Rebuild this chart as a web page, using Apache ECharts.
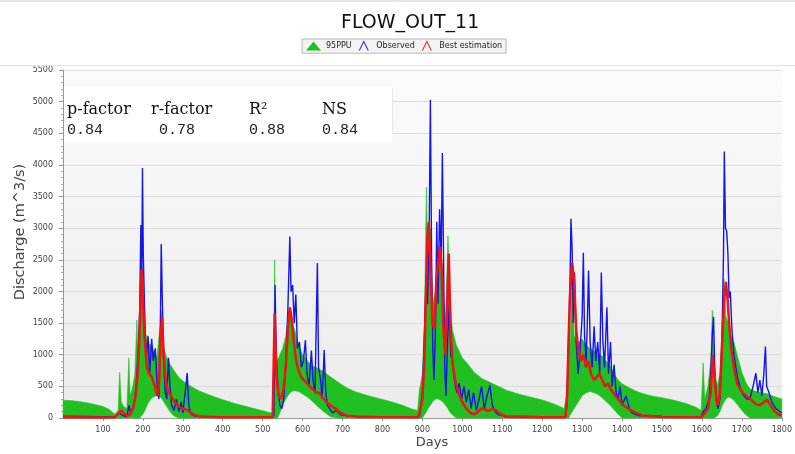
<!DOCTYPE html>
<html>
<head>
<meta charset="utf-8">
<script src="https://cdn.jsdelivr.net/npm/echarts@6/dist/echarts.min.js"></script>
<style>
html,body{margin:0;padding:0;background:#fff;}
#chart{width:795px;height:454px;}
</style>
</head>
<body>
<div id="chart"></div>
<script>
// ---- data ----
var xTickMin = 0, xTickMax = 1800, xTickStep = 100;
var yTickMin = 0, yTickMax = 5500, yTickStep = 500;

var statNames  = ["p-factor", "r-factor", "R\u00B2", "NS"];
var statValues = ["0.84", "0.78", "0.88", "0.84"];

// 95PPU band: [day, lower, upper]
var ppuBand = [
  [0,0,280],[20,0,275],[40,0,260],[60,0,240],[80,0,215],[100,0,180],[115,0,140],[130,0,60],
  [138,0,120],[142,0,720],[146,0,250],[152,0,180],[160,0,150],[165,0,950],[168,0,350],[175,0,500],
  [180,0,700],[185,0,1550],[188,0,900],[192,0,1100],[196,30,2400],[200,60,2300],[205,120,1400],
  [212,220,1200],[220,300,1150],[228,340,1050],[235,350,950],[242,340,1400],[248,300,1700],
  [253,250,1100],[260,180,950],[268,100,850],[278,30,750],[290,0,640],[305,0,560],[320,0,500],
  [340,0,430],[360,0,380],[380,0,330],[400,0,290],[430,0,230],[460,0,180],[490,0,130],[515,0,90],
  [527,0,70],[530,0,2500],[533,0,1200],[537,0,900],[543,80,1000],[550,200,1100],[558,300,1300],
  [566,380,1700],[572,420,1500],[580,430,1400],[590,420,1150],[600,380,1000],[612,330,900],
  [625,260,820],[640,170,780],[655,90,720],[670,20,650],[690,0,560],[710,0,480],[730,0,420],
  [760,0,360],[790,0,310],[820,0,260],[850,0,200],[875,0,140],[888,0,120],[892,0,420],[900,0,700],
  [905,50,1500],[910,100,3650],[914,150,2200],[920,200,3000],[926,260,1800],[933,300,2000],
  [940,300,2600],[946,280,2800],[952,250,2000],[958,200,1500],[964,150,2880],[968,100,2000],
  [975,50,1400],[985,0,1150],[1000,0,950],[1015,0,840],[1030,0,720],[1050,0,620],[1070,0,560],
  [1090,0,500],[1110,0,440],[1140,0,380],[1170,0,330],[1200,0,285],[1230,0,220],[1255,0,150],
  [1262,0,400],[1266,0,1600],[1270,50,1100],[1275,100,2400],[1280,150,1300],[1290,250,1200],
  [1300,350,1250],[1310,400,1150],[1320,420,1100],[1330,400,1050],[1340,370,1000],[1350,320,980],
  [1360,260,900],[1370,200,820],[1380,130,700],[1390,60,600],[1400,0,540],[1420,0,470],
  [1440,0,410],[1460,0,370],[1480,0,340],[1500,0,320],[1530,0,280],[1560,0,230],[1585,0,170],
  [1598,0,120],[1603,0,870],[1607,0,300],[1615,0,500],[1622,0,900],[1626,0,1700],[1630,0,800],
  [1638,30,500],[1645,100,700],[1650,180,1300],[1655,250,2200],[1660,300,1600],[1666,330,1500],
  [1672,320,1300],[1680,280,1200],[1690,200,950],[1700,120,720],[1710,50,560],[1720,0,460],
  [1735,0,420],[1750,0,400],[1765,0,380],[1780,0,340],[1800,0,300]
];

// Observed discharge: [day, value]
var observed = [
  [0,30],[50,25],[100,20],[130,15],[140,80],[145,60],[150,40],[160,20],[165,200],[170,60],[178,200],
  [183,500],[188,1000],[192,1700],[195,3050],[197,2000],[199,3950],[201,2600],[204,1800],[208,900],
  [213,1300],[217,700],[222,1250],[226,900],[231,1100],[236,500],[240,300],[243,1000],[246,2750],
  [249,1800],[252,900],[256,400],[260,300],[264,950],[268,500],[272,200],[278,120],[284,300],[290,100],
  [296,250],[300,80],[306,400],[311,710],[315,200],[320,60],[330,30],[360,20],[450,15],[520,10],
  [528,30],[531,2100],[534,1000],[538,500],[543,200],[548,150],[553,300],[558,900],[563,1700],
  [568,2870],[571,2000],[575,2100],[579,1500],[583,1950],[587,1100],[592,1200],[597,800],[602,900],
  [607,1230],[611,700],[616,500],[622,1065],[626,600],[631,400],[637,2450],[640,800],[645,600],
  [649,300],[654,1075],[658,400],[662,200],[668,150],[675,80],[685,120],[695,50],[720,30],[800,20],
  [880,15],[893,30],[900,400],[906,1500],[910,2300],[913,1800],[917,3000],[920,5030],[923,2500],
  [926,1100],[929,600],[933,1500],[936,3100],[939,1800],[943,3300],[947,2500],[950,4190],[953,2500],
  [956,800],[959,350],[963,1200],[967,1800],[971,1000],[975,900],[980,600],[986,400],[992,550],
  [998,300],[1004,500],[1010,250],[1016,450],[1022,150],[1028,400],[1035,120],[1042,300],[1048,500],
  [1055,150],[1062,350],[1069,520],[1075,200],[1082,100],[1090,50],[1110,30],[1200,20],[1258,20],
  [1262,200],[1266,1200],[1270,2300],[1272,3150],[1275,2650],[1278,1500],[1281,2300],[1285,1200],
  [1290,700],[1295,1100],[1300,1600],[1303,2610],[1306,1300],[1310,900],[1313,1500],[1316,2330],
  [1320,1200],[1325,800],[1330,1450],[1334,900],[1339,1200],[1344,700],[1348,2300],[1352,1200],
  [1356,800],[1362,1750],[1366,700],[1371,1200],[1375,500],[1380,840],[1385,400],[1390,300],
  [1395,500],[1400,200],[1410,350],[1418,150],[1425,80],[1440,40],[1500,25],[1598,20],[1603,100],
  [1610,150],[1618,300],[1622,700],[1626,1300],[1629,1600],[1632,800],[1636,300],[1640,150],
  [1645,300],[1650,1200],[1654,2600],[1656,4210],[1659,3000],[1662,2950],[1665,2600],[1668,1900],
  [1671,2000],[1675,1400],[1680,1000],[1685,800],[1690,600],[1695,500],[1700,400],[1705,350],
  [1712,300],[1720,300],[1728,500],[1735,710],[1740,400],[1745,600],[1750,350],[1755,700],
  [1759,1130],[1762,500],[1768,400],[1775,250],[1785,150],[1800,80]
];

// Best estimation: [day, value]
var bestEst = [
  [0,10],[100,8],[130,10],[138,60],[145,120],[152,80],[160,30],[168,60],[175,150],[182,350],[187,700],
  [191,1200],[194,1800],[197,2350],[200,1900],[204,1300],[210,800],[216,700],[222,650],[230,500],
  [236,350],[240,500],[244,1200],[248,1600],[252,1000],[257,600],[262,450],[270,350],[280,250],
  [290,180],[300,150],[312,120],[325,60],[340,25],[400,10],[525,10],[530,1650],[534,700],[540,350],
  [546,300],[552,450],[558,800],[563,1400],[568,1750],[573,1550],[578,1200],[584,900],[590,750],
  [596,650],[603,600],[610,550],[618,500],[626,450],[634,400],[642,400],[650,320],[660,250],[670,200],
  [682,150],[695,80],[710,40],[740,15],[890,10],[900,300],[905,900],[909,2000],[913,2900],[916,3100],
  [920,2400],[925,1500],[930,1400],[935,2200],[940,2500],[944,2700],[948,2400],[952,1500],[957,1000],
  [962,1800],[966,2600],[970,1500],[975,900],[982,600],[990,400],[1000,250],[1010,150],[1020,80],
  [1030,60],[1040,100],[1048,150],[1058,130],[1066,110],[1075,150],[1085,120],[1095,60],[1110,20],
  [1200,10],[1258,10],[1262,300],[1266,1200],[1270,2000],[1275,2450],[1280,2150],[1285,1400],
  [1290,1100],[1297,900],[1303,1000],[1310,800],[1316,900],[1322,700],[1330,600],[1337,650],
  [1343,700],[1350,600],[1357,500],[1365,550],[1372,450],[1380,380],[1390,300],[1400,220],[1410,170],
  [1420,130],[1435,80],[1450,40],[1500,15],[1598,10],[1605,60],[1615,150],[1622,400],[1627,1000],
  [1631,700],[1636,300],[1640,200],[1645,400],[1650,1100],[1655,1800],[1660,2150],[1664,1900],
  [1668,1500],[1673,1100],[1680,800],[1688,550],[1696,450],[1705,380],[1715,330],[1725,280],
  [1735,220],[1745,200],[1755,250],[1763,290],[1770,220],[1780,120],[1790,60],[1800,40]
];

var GREEN = '#21c021', BLUE = '#1515e6', RED = '#f01414';
var axisFont = 'DejaVu Sans';

var chart = echarts.init(document.getElementById('chart'), null, {renderer: 'canvas'});

var statGraphics = [];
var nameX = [67, 151, 249, 322];
var valueX = [67, 159, 249, 322];
statNames.forEach(function (n, i) {
  statGraphics.push({type: 'text', x: nameX[i], y: 102, z: 20,
    style: {text: n, font: '16px "DejaVu Serif"', fill: '#111', verticalAlign: 'top'}});
  statGraphics.push({type: 'text', x: valueX[i], y: 123, z: 20,
    style: {text: statValues[i], font: '15px "Liberation Mono"', fill: '#222', verticalAlign: 'top'}});
});

function plain(v) { return String(v); }

// band polygon: upper edge forward, lower edge backward, mapped by the axes
function renderBand(params, api) {
  if (params.dataIndex !== 0) return null;
  var pts = [];
  for (var i = 0; i < ppuBand.length; i++) pts.push(api.coord([ppuBand[i][0], ppuBand[i][2]]));
  for (var j = ppuBand.length - 1; j >= 0; j--) pts.push(api.coord([ppuBand[j][0], ppuBand[j][1]]));
  return {
    type: 'polygon',
    shape: {points: pts},
    style: {fill: GREEN, stroke: GREEN, lineWidth: 0.6}
  };
}

var option = {
  animation: false,
  backgroundColor: '#ffffff',
  title: {
    text: 'FLOW_OUT_11', left: 336, top: 9,
    textStyle: {fontFamily: axisFont, fontSize: 19, fontWeight: 'normal', color: '#111'}
  },
  legend: {
    left: 302, top: 39, padding: [2, 4, 2, 4],
    backgroundColor: '#f3f3f3', borderColor: '#b8b8b8', borderWidth: 1,
    itemWidth: 15, itemHeight: 9, itemGap: 7,
    textStyle: {fontFamily: axisFont, fontSize: 8, color: '#222'},
    data: [
      {name: '95PPU', icon: 'triangle', itemStyle: {color: GREEN}},
      {name: 'Observed', icon: 'path://M0,10L5,0L10,10', itemStyle: {color: 'rgba(0,0,0,0)', borderColor: '#4040d8', borderWidth: 1.2}},
      {name: 'Best estimation', icon: 'path://M0,10L5,0L10,10', itemStyle: {color: 'rgba(0,0,0,0)', borderColor: '#d84040', borderWidth: 1.2}}
    ]
  },
  grid: {
    left: 63, right: 2, top: 70, bottom: 36,
    show: true, borderWidth: 0,
    backgroundColor: new echarts.graphic.LinearGradient(0, 0, 0, 1, [
      {offset: 0, color: '#fbfbfb'}, {offset: 1, color: '#ebebeb'}
    ])
  },
  xAxis: {
    type: 'value', min: xTickMin, max: xTickMax, interval: xTickStep,
    axisLine: {show: true, lineStyle: {color: '#999'}},
    axisTick: {show: true, length: 3, lineStyle: {color: '#999'}},
    axisLabel: {showMinLabel: false, formatter: plain, fontFamily: axisFont, fontSize: 8, color: '#444', margin: 8},
    splitLine: {show: false}
  },
  yAxis: {
    type: 'value', min: yTickMin, max: yTickMax, interval: yTickStep,
    axisLine: {show: true, lineStyle: {color: '#999'}},
    axisTick: {show: true, length: 4, lineStyle: {color: '#999'}},
    minorTick: {show: true, splitNumber: 5, length: 2, lineStyle: {color: '#aaa'}},
    axisLabel: {formatter: plain, fontFamily: axisFont, fontSize: 8, color: '#444', margin: 10},
    splitLine: {show: true, lineStyle: {color: '#dcdcdc', width: 1}}
  },
  series: [
    {name: '95PPU', type: 'custom', renderItem: renderBand,
      data: ppuBand.map(function (r) { return [r[0], r[2]]; }),
      encode: {x: 0, y: 1}, itemStyle: {color: GREEN}, z: 2, silent: true},
    {name: 'Observed', type: 'line', data: observed, symbol: 'none',
      lineStyle: {width: 1.4, color: BLUE}, itemStyle: {color: BLUE}, z: 3},
    {name: 'Best estimation', type: 'line', data: bestEst, symbol: 'none',
      lineStyle: {width: 2.5, color: RED}, itemStyle: {color: RED}, z: 4}
  ],
  graphic: [
    {type: 'line', shape: {x1: 0, y1: 1, x2: 795, y2: 1}, style: {stroke: '#c9c9dd', lineWidth: 1}, z: 20},
    {type: 'line', shape: {x1: 0, y1: 65.5, x2: 795, y2: 65.5}, style: {stroke: '#e2e2e2', lineWidth: 1}, z: 20},
    {type: 'rect', shape: {x: 64, y: 87, width: 328, height: 56}, style: {fill: '#ffffff'}, z: 15},
    {type: 'line', shape: {x1: 392.5, y1: 88, x2: 392.5, y2: 132}, style: {stroke: '#e6e6e6', lineWidth: 1}, z: 16},
    {type: 'text', x: 432, y: 443, z: 20,
      style: {text: 'Days', font: '13px "DejaVu Sans"', fill: '#444', align: 'center', verticalAlign: 'middle'}},
    {type: 'text', x: 20, y: 232, rotation: Math.PI / 2, z: 20,
      style: {text: 'Discharge (m^3/s)', font: '14.5px "DejaVu Sans"', fill: '#444', align: 'center', verticalAlign: 'middle'}}
  ].concat(statGraphics)
};
chart.setOption(option);
</script>
</body>
</html>
